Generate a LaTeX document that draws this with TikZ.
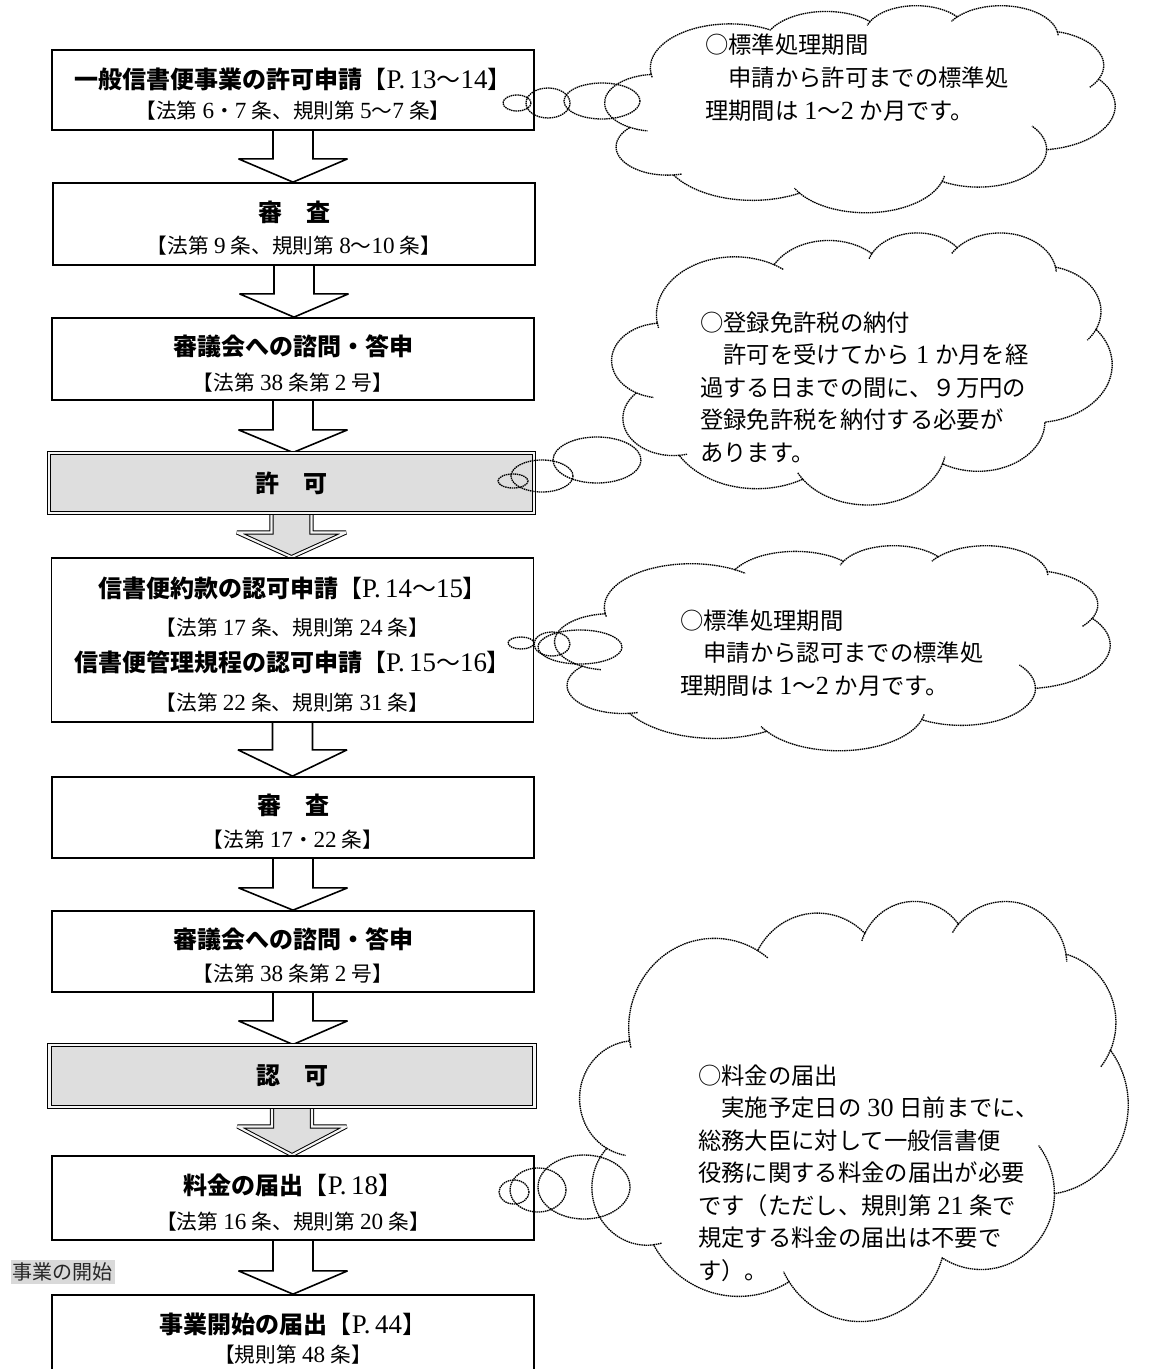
\documentclass[tikz,border=0pt]{standalone}
\usepackage{fontspec}
\setmainfont{Liberation Serif}
\newfontfamily\jp{Noto Sans CJK JP}
\newfontfamily\srf{Liberation Serif}[Scale=1.12]
\usetikzlibrary{calc,backgrounds}
\newcommand\dsr[1]{{\srf #1}}
\newcommand\gp{\hspace{0.25em}}
\newcommand\tst{\rule{0pt}{22pt}}
\newcommand\hdg[1]{{\fontsize{18pt}{24pt}\selectfont\bfseries #1}}
\newcommand\hmd[1]{{\fontsize{18pt}{24pt}\selectfont #1}}
\newcommand\stubfac{0.6}
\newcommand\cskip{0}
\newcommand\carc[4]{arc[start angle={pa(#1,#3/#4)}, delta angle={mod(pa(#1+#2,#3/#4)-pa(#1,#3/#4)+720,360)}, x radius=#3, y radius=#4]}
\newcommand\cloudpath{(3.9,14.37) coordinate (cj0)
 \carc{-190.4875}{123.7805}{6.753}{9.190} coordinate (cj1)
 \carc{-144.1024}{89.9452}{5.333}{7.267} coordinate (cj2)
 \carc{-145.8079}{99.7230}{4.365}{5.945} coordinate (cj3)
 \carc{-130.9861}{117.2417}{4.857}{6.595} coordinate (cj4)
 \carc{-78.7089}{109.0269}{5.333}{7.273} coordinate (cj5)
 \carc{-46.2673}{130.2690}{6.775}{9.220} coordinate (cj6)
 \carc{0.6250}{114.0333}{5.785}{7.867} coordinate (cj7)
 \carc{22.4516}{115.1726}{6.752}{9.215} coordinate (cj8)
 \carc{66.2426}{75.7110}{7.720}{10.543} coordinate (cj9)
 \carc{-274.9421}{146.7356}{4.360}{5.918} coordinate (cj10)
 \carc{-246.8285}{152.5189}{4.345}{5.945} -- cycle}
% forward stub: from junction #1, lobe end angle #2, sweep #3, radii #4 #5
\newcommand\stubF[5]{\draw[dotline] (#1) arc[start angle={pa(#2,#4/#5)}, delta angle={\stubfac*mod(pa(#2+#3,#4/#5)-pa(#2,#4/#5)+720,360)}, x radius=#4, y radius=#5];}
% backward stub: from junction #1, lobe start angle #2, sweep #3
\newcommand\stubB[5]{\draw[dotline] (#1) arc[start angle={pa(#2,#4/#5)}, delta angle={-\stubfac*mod(pa(#2,#4/#5)-pa(#2-#3,#4/#5)+720,360)}, x radius=#4, y radius=#5];}
\newcommand\cloudstubs{%
 \stubB{cj10}{-246.8285}{26.4295}{4.345}{5.945}
 \stubB{cj9}{-274.9421}{11.4475}{4.360}{5.918}
 \stubF{cj8}{137.6242}{14.0811}{6.752}{9.215}
 \ifnum\cskip=4 \else\stubB{cj7}{22.4516}{15.9984}{6.752}{9.215}\fi
 \ifnum\cskip=5 \else\stubB{cj6}{0.6250}{70.9174}{5.785}{7.867}\fi
 \stubF{cj5}{30.3180}{27.7515}{5.333}{7.273}
 \stubF{cj4}{-13.7443}{14.8589}{4.857}{6.595}
 \stubB{cj3}{-130.9861}{18.1954}{4.857}{6.595}
 \stubB{cj2}{-145.8079}{17.6864}{4.365}{5.945}
 \ifnum\cskip=10 \else\stubF{cj1}{-66.7070}{12.3194}{6.753}{9.190}\fi
 \stubB{cj0}{-190.4875}{11.8582}{6.753}{9.190}
}
\newcommand\mycloud[5]{%
 \renewcommand\cskip{#5}%
 \begin{scope}[shift={(#1,#2)}, xscale=#3/43.2, yscale=#4/43.2]
  \filldraw[dotline, fill=white] \cloudpath;
  \cloudstubs
 \end{scope}}
% block arrow: #1 fill, #2 line style, #3 from node, #4 to node, #5 shoulder offset
\newcommand\barrow[5]{%
 \fill[#1] ($(#3.south)+(-20,0)$) -- ($(#3.south)+(-20,#5)$) -- ($(#3.south)+(-54.5,#5)$) -- (#3.south |- #4.north) -- ($(#3.south)+(54.5,#5)$) -- ($(#3.south)+(20,#5)$) -- ($(#3.south)+(20,0)$) -- cycle;
 \draw[#2] ($(#3.south)+(-20,0)$) -- ($(#3.south)+(-20,#5)$) -- ($(#3.south)+(-54.5,#5)$) -- (#3.south |- #4.north) -- ($(#3.south)+(54.5,#5)$) -- ($(#3.south)+(20,#5)$) -- ($(#3.south)+(20,0)$);
}
\begin{document}
\begin{tikzpicture}[x=0.75pt,y=-0.75pt,
  declare function={pa(\a,\k)=atan2(\k*sin(\a),cos(\a));},
  dotline/.style={line width=1pt, dash pattern=on 1.1pt off 0.55pt},
  box/.style={draw, line width=1.3pt, fill=white, minimum width=361.5pt, inner sep=0pt, align=center,
    font=\jp\fontsize{15.5pt}{24pt}\selectfont},
  gbox/.style={box, fill=black!13, double=black!4, double distance=1.6pt, line width=0.75pt, minimum width=363.75pt},
  arline/.style={line width=1.2pt, line join=miter, miter limit=4},
  garline/.style={line width=0.75pt, double=black!4, double distance=1.6pt, line join=miter, miter limit=4},
  ctext/.style={anchor=base west, inner sep=0pt, font=\jp\fontsize{17.5pt}{24.4pt}\selectfont},
]
\useasboundingbox (0,0) rectangle (1158,1369);

% boxes
\node[box, minimum height=60pt] (b1) at (293,90) {\tst\hdg{一般信書便事業の許可申請}\hmd{【\dsr{P.\,13}〜\dsr{14}】}\\[-1.5pt]【法第\gp\dsr{6}・\dsr{7}\gp 条、規則第\gp\dsr{5}〜\dsr{7}\gp 条】};
\node[box, minimum height=61.5pt] (b2) at (294,224) {\tst\hdg{審　査}\\【法第\gp\dsr{9}\gp 条、規則第\gp\dsr{8}〜\dsr{10}\gp 条】};
\node[box, minimum height=61.5pt] (b3) at (293,359) {\tst\hdg{審議会への諮問・答申}\\[2pt]【法第\gp\dsr{38}\gp 条第\gp\dsr{2}\gp 号】};
\node[gbox, minimum height=45pt] (b4) at (291.5,483) {\hdg{許　可}};
\node[box, minimum height=123pt] (b5) at (292.5,640) {\tst\hdg{信書便約款の認可申請}\hmd{【\dsr{P.\,14}〜\dsr{15}】}\\[5pt]【法第\gp\dsr{17}\gp 条、規則第\gp\dsr{24}\gp 条】\\[3pt]\hdg{信書便管理規程の認可申請}\hmd{【\dsr{P.\,15}〜\dsr{16}】}\\[5pt]【法第\gp\dsr{22}\gp 条、規則第\gp\dsr{31}\gp 条】};
\node[box, minimum height=60.75pt] (b6) at (293,817.5) {\tst\hdg{審　査}\\[1pt]【法第\gp\dsr{17}・\dsr{22}\gp 条】};
\node[box, minimum height=60.75pt] (b7) at (293,951.5) {\tst\hdg{審議会への諮問・答申}\\[1pt]【法第\gp\dsr{38}\gp 条第\gp\dsr{2}\gp 号】};
\node[gbox, minimum height=46.5pt] (b8) at (292,1076) {\hdg{認　可}};
\node[box, minimum height=63pt] (b9) at (293,1198) {\tst\hdg{料金の届出}\hmd{【\dsr{P.\,18}】}\\[2pt]【法第\gp\dsr{16}\gp 条、規則第\gp\dsr{20}\gp 条】};
\node[box, minimum height=61.5pt] (b10) at (293,1336) {\rule{0pt}{19pt}\hdg{事業開始の届出}\hmd{【\dsr{P.\,44}】}\\[-2pt]【規則第\gp\dsr{48}\gp 条】};

\node[fill=black!15, inner xsep=1.5pt, inner ysep=2pt, text=black!85, font=\jp\fontsize{15pt}{18pt}\selectfont] (lbl) at (62.5,1272) {事業の開始};

% page background and arrows (behind boxes)
\begin{scope}[on background layer]
\fill[white] (0,0) rectangle (1158,1369);
\barrow{white}{arline}{b1}{b2}{28}
\barrow{white}{arline}{b2}{b3}{28}
\barrow{white}{arline}{b3}{b4}{29}
\barrow{black!13}{garline}{b4}{b5}{19}
\barrow{white}{arline}{b5}{b6}{27}
\barrow{white}{arline}{b6}{b7}{29}
\barrow{white}{arline}{b7}{b8}{28}
\barrow{black!13}{garline}{b8}{b9}{19}
\barrow{white}{arline}{b9}{b10}{30}
\end{scope}

% clouds
\mycloud{605}{5}{510}{207}{10}
\mycloud{612}{232}{500}{272}{5}
\mycloud{555}{545}{555}{205}{0}
\mycloud{580}{900}{548}{420}{4}

% callout bubbles
\draw[dotline] (517,103) ellipse[x radius=14, y radius=8];
\draw[dotline] (548,103) ellipse[x radius=22, y radius=15];
\draw[dotline] (602,101) ellipse[x radius=38, y radius=18];

\draw[dotline] (513,481) ellipse[x radius=15, y radius=7];
\draw[dotline] (542,476) ellipse[x radius=31, y radius=16];
\draw[dotline] (597,460) ellipse[x radius=44, y radius=23];

\draw[dotline] (521,643) ellipse[x radius=13, y radius=6];
\draw[dotline] (552,644) ellipse[x radius=18, y radius=12];
\draw[dotline] (580,647) ellipse[x radius=42, y radius=17];

\draw[dotline] (514,1192) ellipse[x radius=15, y radius=12];
\draw[dotline] (538,1190) ellipse[x radius=28, y radius=22];
\draw[dotline] (584,1187) ellipse[x radius=46, y radius=32];

% cloud texts
\node[ctext] (t1) at (705,54) {\begin{tabular}[t]{@{}l@{}}○標準処理期間\\　申請から許可までの標準処\\理期間は\gp\dsr{1}〜\dsr{2}\gp か月です。\end{tabular}};
\node[ctext] (t2) at (700,331) {\begin{tabular}[t]{@{}l@{}}○登録免許税の納付\\　許可を受けてから\gp\dsr{1}\gp か月を経\\過する日までの間に、９万円の\\登録免許税を納付する必要が\\あります。\end{tabular}};
\node[ctext] (t3) at (680,629) {\begin{tabular}[t]{@{}l@{}}○標準処理期間\\　申請から認可までの標準処\\理期間は\gp\dsr{1}〜\dsr{2}\gp か月です。\end{tabular}};
\node[ctext] (t4) at (698,1084) {\begin{tabular}[t]{@{}l@{}}○料金の届出\\　実施予定日の\gp\dsr{30}\gp 日前までに、\\総務大臣に対して一般信書便\\役務に関する料金の届出が必要\\です（ただし、規則第\gp\dsr{21}\gp 条で\\規定する料金の届出は不要で\\す）。\end{tabular}};
\end{tikzpicture}
\end{document}
